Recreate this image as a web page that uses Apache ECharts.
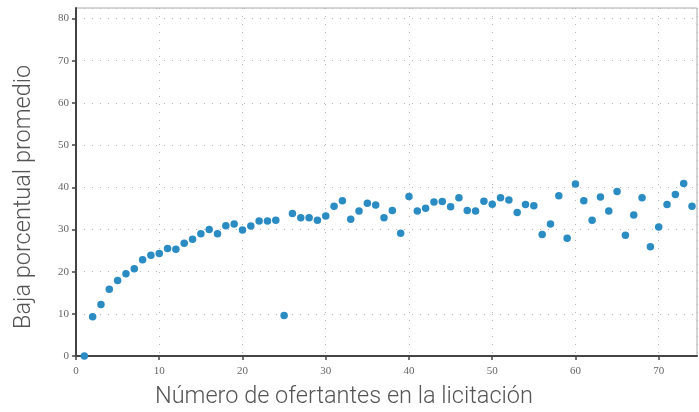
<!DOCTYPE html>
<html><head><meta charset="utf-8">
<script src="https://cdn.jsdelivr.net/npm/echarts@6/dist/echarts.min.js"></script>
<style>html,body{margin:0;padding:0;background:#fff}#c{width:699px;height:412px}</style>
</head><body><div id="c"></div>
<script>
const oferentes = [1,2,3,4,5,6,7,8,9,10,11,12,13,14,15,16,17,18,19,20,21,22,23,24,25,26,27,28,29,30,31,32,33,34,35,36,37,38,39,40,41,42,43,44,45,46,47,48,49,50,51,52,53,54,55,56,57,58,59,60,61,62,63,64,65,66,67,68,69,70,71,72,73,74];
const bajaPromedio = [0,9.3,12.2,15.8,17.9,19.5,20.7,22.8,23.9,24.3,25.5,25.3,26.7,27.7,29.0,30.0,29.0,30.9,31.3,29.9,30.8,32.0,32.0,32.2,9.6,33.8,32.8,32.8,32.2,33.2,35.5,36.8,32.4,34.4,36.2,35.8,32.8,34.5,29.1,37.8,34.4,35.0,36.5,36.6,35.4,37.5,34.5,34.4,36.7,36.0,37.5,37.0,34.0,35.9,35.6,28.8,31.3,38.0,27.9,40.8,36.8,32.2,37.7,34.4,39.0,28.6,33.4,37.5,25.9,30.6,35.9,38.3,40.9,35.5];
const xTitle = 'Número de ofertantes en la licitación';
const yTitle = 'Baja porcentual promedio';

const points = oferentes.map((x, i) => [x, bajaPromedio[i]]);
const chart = echarts.init(document.getElementById('c'), null, {renderer: 'canvas'});
const gridLine = {show: true, lineStyle: {color: '#b5b5b5', type: [1, 7], width: 1}};
chart.setOption({
  animation: false,
  grid: {left: 76, top: 8, right: 2, bottom: 56, show: true, borderColor: '#aaa', borderWidth: 1, containLabel: false},
  xAxis: {
    type: 'value', min: 0, max: 74.6, interval: 10,
    axisLine: {show: true, lineStyle: {color: '#444', width: 2}},
    axisTick: {show: true, length: 4, lineStyle: {color: '#444', width: 1.5}},
    axisLabel: {showMaxLabel: false, color: '#666', fontFamily: 'Liberation Serif', fontSize: 11, margin: 10},
    splitLine: gridLine
  },
  yAxis: {
    type: 'value', min: 0, max: 82.5, interval: 10,
    axisLine: {show: true, lineStyle: {color: '#444', width: 2}},
    axisTick: {show: true, length: 4, lineStyle: {color: '#444', width: 1.5}},
    axisLabel: {showMaxLabel: false, color: '#666', fontFamily: 'Liberation Serif', fontSize: 11, margin: 7},
    splitLine: gridLine
  },
  graphic: [
    {type: 'text', left: 155, top: 385, style: {text: xTitle, fill: '#555', font: '300 23.5px Roboto'}},
    {type: 'text', x: 12, y: 329, rotation: Math.PI / 2, style: {text: yTitle, fill: '#555', font: '300 23.5px Roboto', textVerticalAlign: 'top'}}
  ],
  series: [{
    type: 'scatter', data: points, symbolSize: 7.5,
    itemStyle: {color: '#2b8cc4', opacity: 1}
  }]
});
</script></body></html>
